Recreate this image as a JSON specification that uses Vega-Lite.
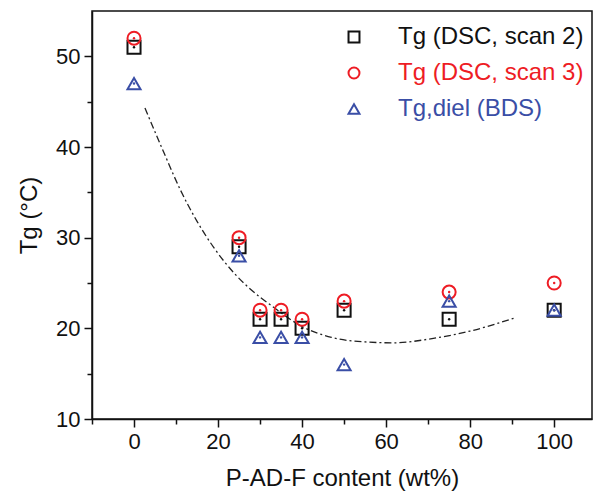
{
  "$schema": "https://vega.github.io/schema/vega-lite/v6.json",
  "width": 500,
  "height": 408,
  "autosize": {"type": "none"},
  "padding": {"left": 92, "top": 11, "right": 1, "bottom": 77},
  "background": "white",
  "config": {
    "font": "Liberation Sans",
    "view": {"stroke": "#111", "strokeWidth": 1.5},
    "axis": {
      "grid": false,
      "domainColor": "#111",
      "domainWidth": 1.5,
      "tickColor": "#111",
      "tickWidth": 1.5,
      "labelColor": "#111",
      "titleColor": "#111",
      "labelFontSize": 22,
      "titleFontSize": 24,
      "titleFontWeight": "normal",
      "labelPadding": 4
    },
    "legend": {
      "orient": "none",
      "legendX": 250,
      "legendY": 14,
      "labelFontSize": 24,
      "labelLimit": 0,
      "symbolSize": 120,
      "symbolStrokeWidth": 2,
      "rowPadding": 12,
      "labelOffset": 32,
      "padding": 0
    }
  },
  "datasets": {
    "pts": [
      {"series": "Tg (DSC, scan 2)", "x": 0, "y": 51},
      {"series": "Tg (DSC, scan 2)", "x": 25, "y": 29},
      {"series": "Tg (DSC, scan 2)", "x": 30, "y": 21},
      {"series": "Tg (DSC, scan 2)", "x": 35, "y": 21},
      {"series": "Tg (DSC, scan 2)", "x": 40, "y": 20},
      {"series": "Tg (DSC, scan 2)", "x": 50, "y": 22},
      {"series": "Tg (DSC, scan 2)", "x": 75, "y": 21},
      {"series": "Tg (DSC, scan 2)", "x": 100, "y": 22},
      {"series": "Tg (DSC, scan 3)", "x": 0, "y": 52},
      {"series": "Tg (DSC, scan 3)", "x": 25, "y": 30},
      {"series": "Tg (DSC, scan 3)", "x": 30, "y": 22},
      {"series": "Tg (DSC, scan 3)", "x": 35, "y": 22},
      {"series": "Tg (DSC, scan 3)", "x": 40, "y": 21},
      {"series": "Tg (DSC, scan 3)", "x": 50, "y": 23},
      {"series": "Tg (DSC, scan 3)", "x": 75, "y": 24},
      {"series": "Tg (DSC, scan 3)", "x": 100, "y": 25},
      {"series": "Tg,diel (BDS)", "x": 0, "y": 47},
      {"series": "Tg,diel (BDS)", "x": 25, "y": 28},
      {"series": "Tg,diel (BDS)", "x": 30, "y": 19},
      {"series": "Tg,diel (BDS)", "x": 35, "y": 19},
      {"series": "Tg,diel (BDS)", "x": 40, "y": 19},
      {"series": "Tg,diel (BDS)", "x": 50, "y": 16},
      {"series": "Tg,diel (BDS)", "x": 75, "y": 23},
      {"series": "Tg,diel (BDS)", "x": 100, "y": 22}
    ],
    "curve": [
      {"x": 2.6, "y": 44.3},
      {"x": 7, "y": 39.5},
      {"x": 11, "y": 35.3},
      {"x": 15, "y": 31.8},
      {"x": 19, "y": 28.9},
      {"x": 24, "y": 26.0},
      {"x": 28, "y": 24.2},
      {"x": 33, "y": 22.4},
      {"x": 40, "y": 20.2},
      {"x": 47, "y": 19.0},
      {"x": 55, "y": 18.5},
      {"x": 62, "y": 18.4},
      {"x": 70, "y": 18.8},
      {"x": 80, "y": 19.7},
      {"x": 91, "y": 21.2}
    ]
  },
  "encoding": {
    "x": {
      "field": "x",
      "type": "quantitative",
      "scale": {"domain": [-10, 109], "nice": false, "zero": false},
      "axis": {
        "title": "P-AD-F content (wt%)",
        "values": [-10, 0, 10, 20, 30, 40, 50, 60, 70, 80, 90, 100],
        "labelExpr": "datum.value % 20 === 0 ? datum.label : ''",
        "tickSize": {"condition": {"test": "datum.value % 20 === 0", "value": 8}, "value": 5},
        "titlePadding": 14
      }
    },
    "y": {
      "field": "y",
      "type": "quantitative",
      "scale": {"domain": [10, 55], "nice": false, "zero": false},
      "axis": {
        "title": "Tg (°C)",
        "values": [10, 15, 20, 25, 30, 35, 40, 45, 50],
        "labelExpr": "datum.value % 10 === 0 ? datum.label : ''",
        "tickSize": {"condition": {"test": "datum.value % 10 === 0", "value": 8}, "value": 5},
        "titlePadding": 14
      }
    }
  },
  "layer": [
    {
      "data": {"name": "curve"},
      "mark": {"type": "line", "interpolate": "monotone", "color": "#222", "strokeWidth": 1.3, "strokeDash": [7, 3, 2, 3]}
    },
    {
      "data": {"name": "pts"},
      "mark": {"type": "point", "filled": false, "strokeWidth": 2, "size": 170, "opacity": 1},
      "encoding": {
        "color": {
          "field": "series",
          "type": "nominal",
          "scale": {"domain": ["Tg (DSC, scan 2)", "Tg (DSC, scan 3)", "Tg,diel (BDS)"], "range": ["#111111", "#ee1c24", "#3a4ea6"]},
          "legend": {
            "title": null,
            "labelColor": {"expr": "datum.value == 'Tg (DSC, scan 3)' ? '#ee1c24' : datum.value == 'Tg,diel (BDS)' ? '#3a4ea6' : '#111111'"}
          }
        },
        "shape": {
          "field": "series",
          "type": "nominal",
          "scale": {"domain": ["Tg (DSC, scan 2)", "Tg (DSC, scan 3)", "Tg,diel (BDS)"], "range": ["square", "circle", "triangle-up"]},
          "legend": {"title": null}
        }
      }
    },
    {
      "data": {"name": "pts"},
      "mark": {"type": "point", "filled": true, "size": 6, "shape": "circle", "opacity": 1},
      "encoding": {
        "color": {
          "field": "series",
          "type": "nominal",
          "scale": {"domain": ["Tg (DSC, scan 2)", "Tg (DSC, scan 3)", "Tg,diel (BDS)"], "range": ["#111111", "#ee1c24", "#3a4ea6"]},
          "legend": null
        }
      }
    }
  ],
  "resolve": {"scale": {"color": "independent", "shape": "independent"}}
}
